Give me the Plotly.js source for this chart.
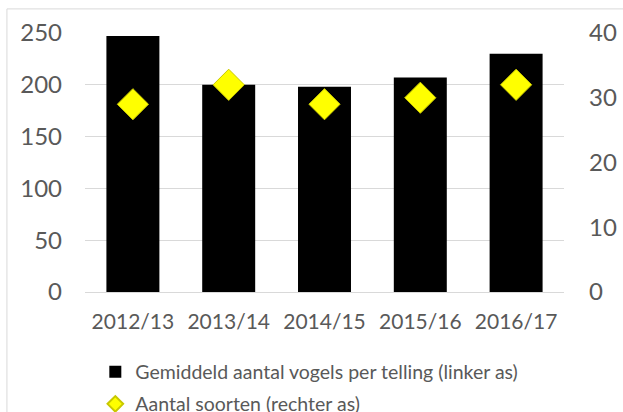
<!DOCTYPE html>
<html>
<head>
<meta charset="utf-8">
<script src="https://cdn.plot.ly/plotly-3.0.1.min.js"></script>
<style>
  html, body { margin: 0; padding: 0; background: #fff; }
  #chart { width: 623px; height: 412px; }
</style>
</head>
<body>
<div id="chart"></div>
<script>
const seasons = ["2012/13", "2013/14", "2014/15", "2015/16", "2016/17"];
const avgBirds = [247, 200, 198, 207, 230];
const speciesCount = [29, 32, 29, 30, 32];
const leftTicks = [0, 50, 100, 150, 200, 250];
const rightTicks = [0, 10, 20, 30, 40];
const barName = "Gemiddeld aantal vogels per telling (linker as)";
const diamondName = "Aantal soorten (rechter as)";

const FONT = "Lato, 'Open Sans', sans-serif";
const GREY = "#595959";

const traces = [
  {
    type: "bar",
    x: seasons,
    y: avgBirds,
    name: barName,
    marker: { color: "#000000" },
    yaxis: "y",
    legend: "legend",
    hoverinfo: "x+y"
  },
  {
    type: "scatter",
    mode: "markers",
    x: seasons,
    y: speciesCount,
    name: diamondName,
    marker: { symbol: "diamond", size: 24, color: "#FFFF00", line: { color: "#C8C800", width: 1 } },
    yaxis: "y2",
    legend: "legend2",
    hoverinfo: "x+y"
  }
];

const layout = {
  width: 623,
  height: 412,
  margin: { l: 85, r: 59, t: 33, b: 120, pad: 0, autoexpand: false },
  paper_bgcolor: "#ffffff",
  plot_bgcolor: "#ffffff",
  font: { family: FONT, color: GREY },
  bargap: 0.447,
  showlegend: true,
  xaxis: {
    type: "category",
    tickfont: { size: 21, color: GREY, family: FONT },
    showgrid: false,
    showline: false,
    zeroline: false,
    ticks: "",
    ticklabelstandoff: 15,
    automargin: false
  },
  yaxis: {
    range: [0, 250],
    tickvals: leftTicks,
    ticktext: leftTicks.map(String),
    tickfont: { size: 24, color: GREY, family: FONT },
    showgrid: true,
    gridcolor: "#d9d9d9",
    gridwidth: 1,
    zeroline: true,
    zerolinecolor: "#d9d9d9",
    zerolinewidth: 1,
    showline: false,
    ticks: "",
    ticklabelstandoff: 22,
    automargin: false,
    fixedrange: true
  },
  yaxis2: {
    range: [0, 40],
    tickvals: rightTicks,
    ticktext: rightTicks.map(String),
    overlaying: "y",
    side: "right",
    tickfont: { size: 24, color: GREY, family: FONT },
    showgrid: false,
    zeroline: false,
    showline: false,
    ticks: "",
    ticklabelstandoff: 24,
    automargin: false,
    fixedrange: true
  },
  legend: {
    xref: "container", yref: "container",
    x: 0.153, xanchor: "left",
    y: 0.097, yanchor: "middle",
    font: { size: 19.5, color: GREY, family: FONT },
    bgcolor: "rgba(0,0,0,0)",
    itemsizing: "constant"
  },
  legend2: {
    xref: "container", yref: "container",
    x: 0.153, xanchor: "left",
    y: 0.019, yanchor: "middle",
    font: { size: 19.5, color: GREY, family: FONT },
    bgcolor: "rgba(0,0,0,0)",
    itemsizing: "constant"
  },
  shapes: [
    {
      type: "rect", xref: "paper", yref: "paper",
      x0: -0.163, x1: 1.3, y0: -0.6, y1: 1.093,
      line: { color: "#d9d9d9", width: 1 },
      fillcolor: "rgba(0,0,0,0)",
      layer: "below"
    }
  ]
};

Plotly.newPlot("chart", traces, layout, { displayModeBar: false, staticPlot: true });
</script>
</body>
</html>
